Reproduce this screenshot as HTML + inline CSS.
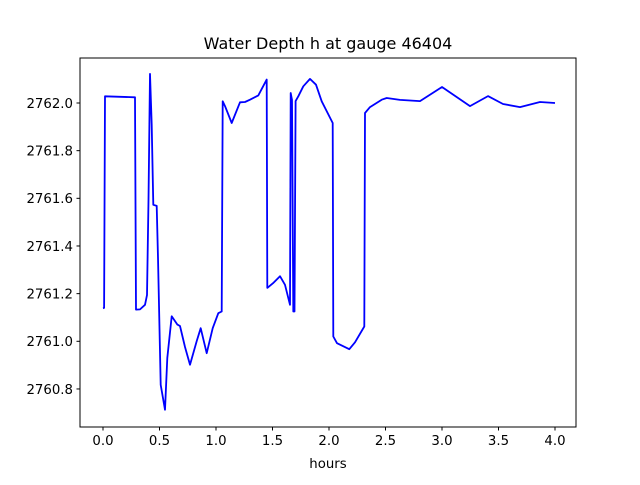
<!DOCTYPE html>
<html><head><meta charset="utf-8"><style>
body{margin:0;background:#fff}
svg text{font-family:"DejaVu Sans","Liberation Sans",sans-serif;fill:#000}
</style></head><body>
<svg id="chart" width="640" height="480" viewBox="0 0 640 480" xmlns="http://www.w3.org/2000/svg">
<rect width="640" height="480" fill="#fff"/>
<text x="328" y="49" font-size="16" text-anchor="middle">Water Depth h at gauge 46404</text>
<g id="ticks"></g>
<path id="series" fill="none" stroke="#0000ff" stroke-width="1.8" stroke-linejoin="round"/>
<rect x="80" y="58" width="496" height="369" fill="none" stroke="#000" stroke-width="1"/>
<text x="328" y="468" font-size="13.3" text-anchor="middle">hours</text>
</svg>
<script>
const hours=[0.0,0.01,0.018,0.283,0.292,0.327,0.372,0.389,0.403,0.416,0.431,0.445,0.475,0.487,0.511,0.549,0.569,0.608,0.658,0.681,0.726,0.770,0.829,0.865,0.918,0.971,1.020,1.050,1.059,1.080,1.139,1.212,1.257,1.301,1.374,1.449,1.454,1.504,1.566,1.611,1.655,1.661,1.673,1.684,1.695,1.704,1.728,1.773,1.832,1.885,1.935,2.033,2.038,2.071,2.180,2.230,2.312,2.319,2.363,2.466,2.511,2.628,2.805,3.0,3.248,3.407,3.540,3.690,3.867,4.0];
const depth=[2761.139,2761.14,2762.028,2762.024,2761.133,2761.134,2761.153,2761.194,2761.593,2762.122,2761.909,2761.573,2761.568,2761.350,2760.817,2760.713,2760.930,2761.105,2761.070,2761.064,2760.976,2760.902,2761.001,2761.055,2760.950,2761.055,2761.118,2761.125,2762.007,2761.987,2761.916,2762.003,2762.004,2762.014,2762.032,2762.098,2761.224,2761.244,2761.273,2761.237,2761.153,2762.042,2762.013,2761.125,2761.125,2762.008,2762.028,2762.070,2762.101,2762.077,2762.007,2761.916,2761.020,2760.992,2760.967,2760.996,2761.062,2761.958,2761.983,2762.014,2762.021,2762.013,2762.008,2762.067,2761.987,2762.029,2761.996,2761.983,2762.004,2762.000];
const xTicks=[0,0.5,1,1.5,2,2.5,3,3.5,4];
const xTickLabels=["0.0","0.5","1.0","1.5","2.0","2.5","3.0","3.5","4.0"];
const yTicks=[2760.8,2761.0,2761.2,2761.4,2761.6,2761.8,2762.0];
const yTickLabels=["2760.8","2761.0","2761.2","2761.4","2761.6","2761.8","2762.0"];
function xs(t){return 103+t*113;}
function ys(v){return 103+(2762-v)*238.3;}
const ns="http://www.w3.org/2000/svg";
const g=document.getElementById('ticks');
xTicks.forEach((t,i)=>{
 const l=document.createElementNS(ns,'line');
 l.setAttribute('x1',xs(t));l.setAttribute('x2',xs(t));l.setAttribute('y1',427);l.setAttribute('y2',430.5);l.setAttribute('stroke','#000');
 
 
 g.appendChild(l);
 const tx=document.createElementNS(ns,'text');
 tx.setAttribute('x',xs(t));tx.setAttribute('y',445);tx.setAttribute('font-size','13.3');tx.setAttribute('text-anchor','middle');
 tx.textContent=xTickLabels[i];
 
 
 g.appendChild(tx);
});
yTicks.forEach((v,i)=>{
 const l=document.createElementNS(ns,'line');
 l.setAttribute('x1',76.5);l.setAttribute('x2',80);l.setAttribute('y1',ys(v));l.setAttribute('y2',ys(v));l.setAttribute('stroke','#000');
 
 
 g.appendChild(l);
 const tx=document.createElementNS(ns,'text');
 tx.setAttribute('x',73);tx.setAttribute('y',ys(v)+4.8);tx.setAttribute('font-size','13.3');tx.setAttribute('text-anchor','end');
 tx.textContent=yTickLabels[i];
 
 
 g.appendChild(tx);
});
document.getElementById('series').setAttribute('d',hours.map((t,i)=>(i?'L':'M')+xs(t).toFixed(1)+' '+ys(depth[i]).toFixed(1)).join(' '));
</script>
</body></html>
